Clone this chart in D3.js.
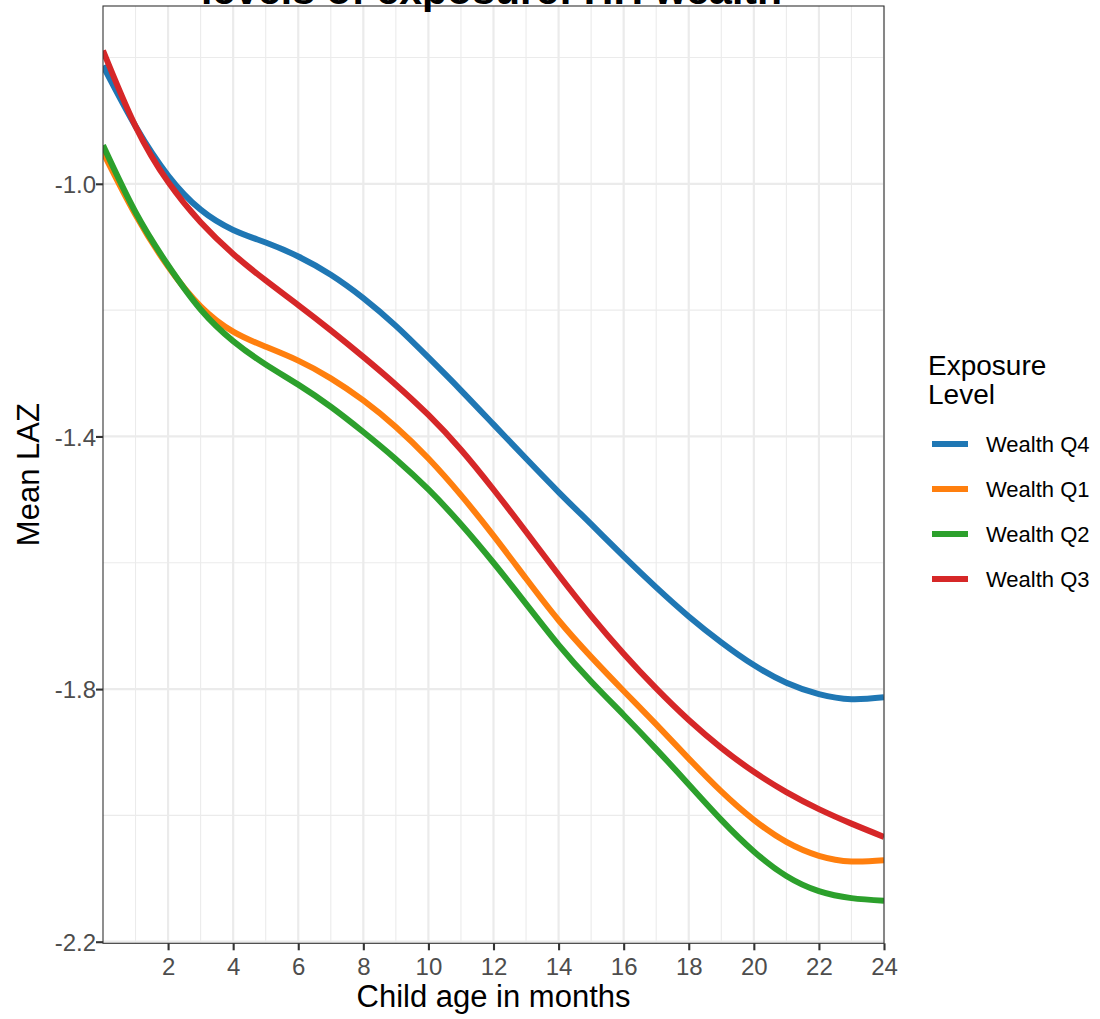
<!DOCTYPE html>
<html>
<head>
<meta charset="utf-8">
<script src="https://cdn.jsdelivr.net/npm/d3@7"></script>
<style>
  html, body { margin: 0; padding: 0; background: #fff; }
  svg { display: block; font-family: "Liberation Sans", Arial, Helvetica, sans-serif; }
</style>
</head>
<body>
<div id="chart"></div>
<script>
// ---- data ----
const months = d3.range(0, 25);
const seriesNames = ["Wealth Q4", "Wealth Q1", "Wealth Q2", "Wealth Q3"];
const seriesColors = ["#1F77B4", "#FF7F0E", "#2CA02C", "#D62728"];
const wealthQ4 = [-0.813, -0.909, -0.987, -1.041, -1.073, -1.093, -1.115, -1.144, -1.181, -1.225, -1.275, -1.327, -1.381, -1.435, -1.488, -1.539, -1.590, -1.639, -1.685, -1.726, -1.762, -1.790, -1.808, -1.816, -1.813];
const wealthQ1 = [-0.950, -1.049, -1.131, -1.194, -1.234, -1.258, -1.280, -1.308, -1.343, -1.385, -1.435, -1.493, -1.557, -1.625, -1.691, -1.749, -1.803, -1.856, -1.910, -1.962, -2.007, -2.042, -2.064, -2.073, -2.071];
const wealthQ2 = [-0.939, -1.045, -1.129, -1.199, -1.249, -1.286, -1.318, -1.353, -1.393, -1.436, -1.484, -1.539, -1.600, -1.665, -1.730, -1.788, -1.841, -1.895, -1.951, -2.007, -2.057, -2.096, -2.120, -2.131, -2.135];
const wealthQ3 = [-0.789, -0.909, -0.997, -1.061, -1.111, -1.153, -1.192, -1.232, -1.274, -1.318, -1.366, -1.421, -1.484, -1.551, -1.619, -1.684, -1.744, -1.799, -1.849, -1.893, -1.931, -1.963, -1.990, -2.013, -2.034];
const seriesValues = [wealthQ4, wealthQ1, wealthQ2, wealthQ3];
const xTicks = [2, 4, 6, 8, 10, 12, 14, 16, 18, 20, 22, 24];
const xMinor = [1, 3, 5, 7, 9, 11, 13, 15, 17, 19, 21, 23];
const yTicks = [-2.2, -1.8, -1.4, -1.0];
const yMinor = [-2.0, -1.6, -1.2, -0.8];
const titleText = "levels of exposure: HH wealth";
const xTitle = "Child age in months";
const yTitle = "Mean LAZ";
const legendTitle = ["Exposure", "Level"];

// ---- layout ----
const W = 1100, H = 1019;
const P = { left: 103, right: 884, top: 6, bottom: 943.3 };

const svg = d3.select("#chart").append("svg").attr("width", W).attr("height", H);

const x = d3.scaleLinear().domain([0, 24]).range([P.left, P.right]);
const y = d3.scaleLinear().domain([-2.2025, -0.7185]).range([P.bottom, P.top]);

svg.append("rect").attr("x", P.left).attr("y", P.top)
  .attr("width", P.right - P.left).attr("height", P.bottom - P.top).attr("fill", "#fff");

const grid = svg.append("g");
grid.selectAll(".xmin").data(xMinor).join("line")
  .attr("x1", d => x(d)).attr("x2", d => x(d)).attr("y1", P.top).attr("y2", P.bottom)
  .attr("stroke", "#EBEBEB").attr("stroke-width", 1.1);
grid.selectAll(".ymin").data(yMinor).join("line")
  .attr("y1", d => y(d)).attr("y2", d => y(d)).attr("x1", P.left).attr("x2", P.right)
  .attr("stroke", "#EBEBEB").attr("stroke-width", 1.1);
grid.selectAll(".xmaj").data(xTicks).join("line")
  .attr("x1", d => x(d)).attr("x2", d => x(d)).attr("y1", P.top).attr("y2", P.bottom)
  .attr("stroke", "#EBEBEB").attr("stroke-width", 2.2);
grid.selectAll(".ymaj").data(yTicks).join("line")
  .attr("y1", d => y(d)).attr("y2", d => y(d)).attr("x1", P.left).attr("x2", P.right)
  .attr("stroke", "#EBEBEB").attr("stroke-width", 2.2);

svg.append("clipPath").attr("id", "clip").append("rect")
  .attr("x", P.left).attr("y", P.top).attr("width", P.right - P.left).attr("height", P.bottom - P.top);

const line = d3.line().x((d, i) => x(months[i])).y(d => y(d)).curve(d3.curveNatural);
const lines = svg.append("g").attr("clip-path", "url(#clip)");
seriesValues.forEach((vals, k) => {
  lines.append("path").datum(vals).attr("d", line)
    .attr("fill", "none").attr("stroke", seriesColors[k]).attr("stroke-width", 6);
});

svg.append("rect").attr("x", P.left).attr("y", P.top)
  .attr("width", P.right - P.left).attr("height", P.bottom - P.top)
  .attr("fill", "none").attr("stroke", "#333333").attr("stroke-width", 1.1);

const xAxis = d3.axisBottom(x).tickValues(xTicks).tickSize(7).tickPadding(8).tickFormat(d3.format("d"));
const gx = svg.append("g").attr("transform", `translate(0,${P.bottom})`).call(xAxis);
gx.select(".domain").remove();
gx.selectAll(".tick line").attr("stroke", "#333333").attr("stroke-width", 2.1);
gx.selectAll(".tick text").attr("fill", "#4D4D4D").attr("font-size", "24px")
  .attr("dy", null).attr("y", 32);

const yAxis = d3.axisLeft(y).tickValues(yTicks).tickSize(7).tickPadding(2)
  .tickFormat(d => d3.format(".1f")(d).replace("\u2212", "-"));
const gy = svg.append("g").attr("transform", `translate(${P.left},0)`).call(yAxis);
gy.select(".domain").remove();
gy.selectAll(".tick line").attr("stroke", "#333333").attr("stroke-width", 2.1);
gy.selectAll(".tick text").attr("fill", "#4D4D4D").attr("font-size", "24px")
  .attr("x", -7).attr("dy", "0.36em");

svg.append("text").attr("x", (P.left + P.right) / 2).attr("y", 1007)
  .attr("text-anchor", "middle").attr("font-size", "31px").attr("fill", "#000").text(xTitle);
svg.append("text").attr("transform", `translate(39,${(P.top + P.bottom) / 2}) rotate(-90)`)
  .attr("text-anchor", "middle").attr("font-size", "31px").attr("fill", "#000").text(yTitle);

svg.append("text").attr("x", 491.5).attr("y", 4).attr("text-anchor", "middle")
  .attr("font-size", "41px").attr("font-weight", "bold").attr("fill", "#000").text(titleText);

const lg = svg.append("g");
lg.selectAll(".lt").data(legendTitle).join("text")
  .attr("x", 928).attr("y", (d, i) => 375 + i * 29)
  .attr("font-size", "28px").attr("fill", "#000").text(d => d);
const items = lg.selectAll(".li").data(seriesNames).join("g")
  .attr("transform", (d, i) => `translate(0,${444 + i * 45})`);
items.append("line").attr("x1", 932).attr("x2", 968).attr("y1", 0).attr("y2", 0)
  .attr("stroke", (d, i) => seriesColors[i]).attr("stroke-width", 6);
items.append("text").attr("x", 986).attr("y", 0).attr("dy", "0.36em")
  .attr("font-size", "22px").attr("fill", "#000").text(d => d);
</script>
</body>
</html>
